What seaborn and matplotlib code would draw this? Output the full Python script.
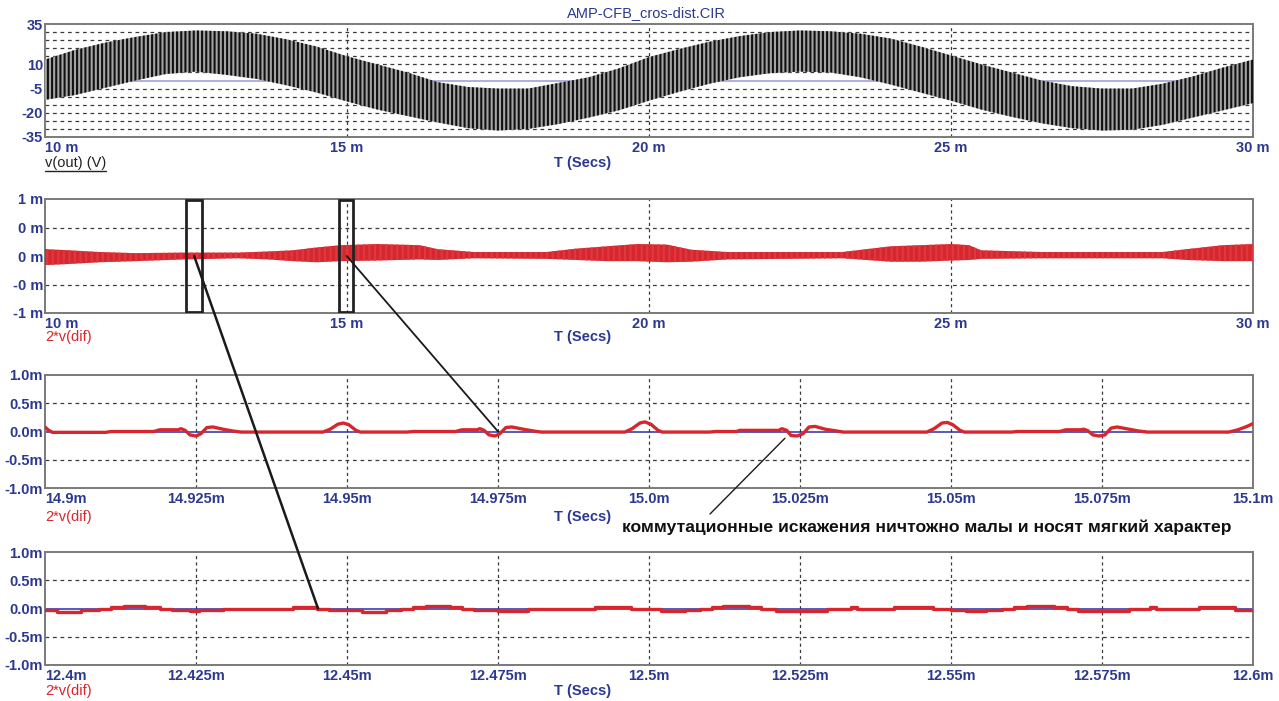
import matplotlib
matplotlib.use("Agg")
import matplotlib.pyplot as plt
import seaborn as sns
from matplotlib.patches import Rectangle, ConnectionPatch
from matplotlib.lines import Line2D

# --- values ---
# panel 1: envelope of v(out) in volts, time in ms
t_env = [10.0, 10.5, 11.0, 11.5, 12.0, 12.5, 13.0, 13.5, 14.0, 14.5,
         15.0, 15.5, 16.0, 16.5, 17.0, 17.5, 18.0, 18.5, 19.0, 19.5,
         20.0, 20.5, 21.0, 21.5, 22.0, 22.5, 23.0, 23.5, 24.0, 24.5,
         25.0, 25.5, 26.0, 26.5, 27.0, 27.5, 28.0, 28.5, 29.0, 29.5,
         30.0]
vout_upper = [13, 19, 23.5, 27, 30, 31, 30.5, 29, 25.5, 21,
              15, 10, 5, -1, -4, -5, -5, -1.5, 2, 7.5,
              14.5, 19.5, 24, 27.5, 30, 31, 30.5, 29, 26, 21,
              15.5, 10, 5, 0, -3.5, -5, -5, -2, 2.5, 8,
              13]
vout_lower = [-12, -9, -4.5, 0, 4, 5.5, 3.5, 1, -3, -7.5,
              -13, -18, -22, -26, -29.5, -31, -30, -27, -23, -18.5,
              -12.5, -7, -2, 2, 4.5, 5.5, 5, 2, -2.5, -7.5,
              -12.5, -18, -22.5, -26.5, -29.5, -31, -30.5, -27.5, -23, -18.5,
              -14]

# panel 2: envelope of 2*v(dif) in mV
t_dif = [10.0, 10.4, 10.9, 11.5, 12.3, 13.2, 13.7, 14.1, 14.5, 14.9,
         15.5, 16.2, 16.5, 17.1, 18.3, 18.8, 19.3, 19.8, 20.3, 20.7,
         21.3, 23.2, 23.6, 24.0, 24.5, 25.0, 25.3, 25.5, 26.5, 28.5,
         28.9, 29.5, 30.0]
dif_upper = [0.12, 0.10, 0.07, 0.05, 0.06, 0.06, 0.08, 0.10, 0.15, 0.19,
             0.21, 0.19, 0.12, 0.07, 0.07, 0.13, 0.17, 0.21, 0.20, 0.11,
             0.07, 0.07, 0.12, 0.17, 0.19, 0.21, 0.19, 0.10, 0.07, 0.07,
             0.12, 0.19, 0.21]
dif_lower = [-0.16, -0.14, -0.11, -0.09, -0.06, -0.04, -0.06, -0.09, -0.11, -0.09,
             -0.08, -0.06, -0.07, -0.04, -0.05, -0.07, -0.09, -0.09, -0.11, -0.10,
             -0.06, -0.04, -0.07, -0.10, -0.10, -0.08, -0.07, -0.05, -0.04, -0.04,
             -0.07, -0.09, -0.09]

# panel 3: 2*v(dif) around 15 ms (mV)
t_z15 = [14.9000, 14.9005, 14.9012, 14.9100, 14.9110, 14.9180, 14.9190, 14.9220, 14.9225, 14.9232,
         14.9240, 14.9250, 14.9258, 14.9268, 14.9278, 14.9295, 14.9310, 14.9325, 14.9460, 14.9472,
         14.9485, 14.9494, 14.9503, 14.9515, 14.9522, 14.9600, 14.9610, 14.9680, 14.9690, 14.9715,
         14.9720, 14.9727, 14.9735, 14.9745, 14.9753, 14.9763, 14.9773, 14.9792, 14.9808, 14.9822,
         14.9960, 14.9972, 14.9985, 14.9993, 15.0003, 15.0015, 15.0022, 15.0100, 15.0110, 15.0145,
         15.0150, 15.0215, 15.0220, 15.0228, 15.0235, 15.0245, 15.0255, 15.0265, 15.0275, 15.0292,
         15.0310, 15.0322, 15.0460, 15.0472, 15.0485, 15.0494, 15.0503, 15.0515, 15.0522, 15.0600,
         15.0610, 15.0680, 15.0690, 15.0715, 15.0720, 15.0727, 15.0735, 15.0745, 15.0755, 15.0765,
         15.0775, 15.0795, 15.0810, 15.0825, 15.0960, 15.0975, 15.0990, 15.1000]
dif_z15 = [0.08, 0.03, -0.015, -0.015, 0.0, 0.0, 0.03, 0.03, 0.05, 0.02,
           -0.06, -0.08, -0.04, 0.07, 0.08, 0.04, 0.01, -0.01, -0.01, 0.04,
           0.13, 0.15, 0.12, 0.02, -0.01, -0.01, 0.0, 0.0, 0.03, 0.03,
           0.05, 0.02, -0.06, -0.08, -0.04, 0.07, 0.08, 0.04, 0.01, -0.01,
           -0.01, 0.05, 0.15, 0.17, 0.13, 0.02, -0.01, -0.01, 0.0, 0.0,
           0.02, 0.02, 0.05, 0.02, -0.07, -0.08, -0.04, 0.08, 0.09, 0.04,
           0.01, -0.01, -0.01, 0.05, 0.15, 0.16, 0.12, 0.02, -0.01, -0.01,
           0.0, 0.0, 0.03, 0.03, 0.04, 0.01, -0.06, -0.08, -0.06, 0.06,
           0.08, 0.04, 0.01, -0.01, -0.01, 0.03, 0.09, 0.14]

# panel 4: 2*v(dif) around 12.5 ms (mV), stepped levels
t_z12 = [12.400, 12.402, 12.406, 12.409, 12.411, 12.413, 12.4166, 12.419, 12.421, 12.424,
         12.4255, 12.4295, 12.441, 12.445, 12.447, 12.450, 12.4525, 12.4565, 12.459, 12.461,
         12.463, 12.467, 12.469, 12.471, 12.475, 12.480, 12.491, 12.497, 12.502, 12.506,
         12.5085, 12.5105, 12.5123, 12.5166, 12.5186, 12.521, 12.5295, 12.5335, 12.5345, 12.5405,
         12.547, 12.550, 12.5525, 12.5558, 12.5585, 12.5605, 12.5625, 12.567, 12.5692, 12.571,
         12.5795, 12.583, 12.584, 12.591, 12.597, 12.600]
dif_z12 = [-0.02, -0.06, -0.02, 0.0, 0.03, 0.05, 0.03, 0.0, -0.03, -0.05,
           -0.03, -0.005, 0.03, 0.0, -0.02, -0.03, -0.06, -0.03, 0.0, 0.03,
           0.05, 0.03, -0.005, -0.03, -0.04, -0.005, 0.03, -0.015, -0.05, -0.02,
           0.0, 0.03, 0.05, 0.025, -0.01, -0.04, -0.005, 0.03, -0.005, 0.03,
           -0.015, -0.02, -0.05, -0.03, 0.0, 0.03, 0.05, 0.03, -0.01, -0.04,
           -0.01, 0.02, -0.01, 0.03, -0.02, -0.02]

# ticks and labels
wide_ticks = [10, 15, 20, 25, 30]
wide_labels = ["10 m", "15 m", "20 m", "25 m", "30 m"]
vout_ticks = [35, 10, -5, -20, -35]
vout_labels = ["35", "10", "-5", "-20", "-35"]
vout_grid = [30, 25, 20, 15, 10, 5, -5, -10, -15, -20, -25, -30]
dif_ticks = [1, 0.5, 0, -0.5, -1]
dif_labels_coarse = ["1 m", "0 m", "0 m", "-0 m", "-1 m"]
dif_labels_fine = ["1.0m", "0.5m", "0.0m", "-0.5m", "-1.0m"]
z15_ticks = [14.9, 14.925, 14.95, 14.975, 15.0, 15.025, 15.05, 15.075, 15.1]
z15_labels = ["14.9m", "14.925m", "14.95m", "14.975m", "15.0m", "15.025m", "15.05m", "15.075m", "15.1m"]
z12_ticks = [12.4, 12.425, 12.45, 12.475, 12.5, 12.525, 12.55, 12.575, 12.6]
z12_labels = ["12.4m", "12.425m", "12.45m", "12.475m", "12.5m", "12.525m", "12.55m", "12.575m", "12.6m"]

title_text = "AMP-CFB_cros-dist.CIR"
note_text = "коммутационные искажения ничтожно малы и носят мягкий характер"

NAVY = "#2b3990"
RED = "#d7262d"
BLUE = "#2a2fa6"
GRID = "#3a3a3a"

sns.set_style("white")
plt.rcParams["font.family"] = ["Liberation Sans", "DejaVu Sans"]
plt.rcParams["hatch.linewidth"] = 1.5

W, H = 1279, 701
fig = plt.figure(figsize=(W / 100, H / 100), dpi=100)


def px_axes(top, bottom, left=45, right=1253):
    return fig.add_axes([left / W, 1 - bottom / H, (right - left) / W, (bottom - top) / H])


def style_axes(ax, xlim, ylim, xticks, xlabels, yticks, ylabels, xgrid, ygrid):
    ax.set_xlim(*xlim)
    ax.set_ylim(*ylim)
    ax.set_xticks(xticks)
    ax.set_xticklabels(xlabels, fontweight="bold")
    ax.set_yticks(yticks)
    ax.set_yticklabels(ylabels, fontweight="bold")
    ax.tick_params(axis="both", length=0, labelcolor=NAVY, labelsize=10.5)
    ax.tick_params(axis="x", pad=3)
    ax.tick_params(axis="y", pad=1.5)
    ax.get_xticklabels()[0].set_horizontalalignment("left")
    for x in xgrid:
        ax.axvline(x, color=GRID, lw=0.9, ls=(0, (2.5, 2.5)), zorder=1)
    for y in ygrid:
        ax.axhline(y, color=GRID, lw=0.9, ls=(0, (3, 3)), zorder=1)
    for s in ax.spines.values():
        s.set_color("#7a7a7a")
        s.set_linewidth(1.4)
    ax.set_xlabel("")
    ax.set_ylabel("")


# --- panel 1: v(out) ---
ax1 = px_axes(24, 137)
ax1.fill_between(t_env, vout_lower, vout_upper, facecolor="#a4a4a4",
                 edgecolor="#111111", hatch="||||", linewidth=0, zorder=3)
ax1.axhline(0, color="#a9a9dd", lw=1.3, zorder=2)
style_axes(ax1, (10, 30), (-35, 35), wide_ticks, wide_labels,
           vout_ticks, vout_labels, [15, 20, 25], vout_grid)

# --- panel 2: 2*v(dif) over 10..30 ms ---
ax2 = px_axes(199, 313)
ax2.fill_between(t_dif, dif_lower, dif_upper, facecolor=RED, edgecolor="#dc3a40",
                 hatch="|||", linewidth=0, zorder=3)
style_axes(ax2, (10, 30), (-1, 1), wide_ticks, wide_labels,
           dif_ticks, dif_labels_coarse, [15, 20, 25], [0.5, -0.5])
ax2.add_patch(Rectangle((12.335, -0.975), 0.265, 1.955, fill=False,
                        ec="#222222", lw=2, zorder=5))
ax2.add_patch(Rectangle((14.87, -0.975), 0.235, 1.955, fill=False,
                        ec="#222222", lw=2, zorder=5))

# --- panel 3: zoom around 15 ms ---
ax3 = px_axes(375, 488)
ax3.axhline(0, color=BLUE, lw=1.1, zorder=2)
sns.lineplot(x=t_z15, y=dif_z15, ax=ax3, color=RED, lw=2.4, zorder=3)
style_axes(ax3, (14.9, 15.1), (-1, 1), z15_ticks, z15_labels,
           dif_ticks, dif_labels_fine, z15_ticks[1:-1], [0.5, -0.5])

# --- panel 4: zoom around 12.5 ms ---
ax4 = px_axes(552, 665)
ax4.axhline(0, color=BLUE, lw=1.1, zorder=2)
sns.lineplot(x=t_z12, y=dif_z12, ax=ax4, color=RED, lw=2.4, zorder=3,
             drawstyle="steps-post")
style_axes(ax4, (12.4, 12.6), (-1, 1), z12_ticks, z12_labels,
           dif_ticks, dif_labels_fine, z12_ticks[1:-1], [0.5, -0.5])

# --- texts ---
fig.text(646 / W, 1 - 13 / H, title_text, color=NAVY, fontsize=10.5,
         ha="center", va="center")
for yc in (163, 337, 517, 691):
    fig.text(583 / W, 1 - yc / H, "T (Secs)", color=NAVY, fontsize=10.5,
             fontweight="bold", ha="center", va="center")
vout_lbl = fig.text(45 / W, 1 - 163 / H, "v(out) (V)", color="#222222",
                    fontsize=10.5, ha="left", va="center")
for yc in (337, 517, 691):
    fig.text(45 / W, 1 - yc / H, "2*v(dif)", color=RED, fontsize=10.5,
             ha="left", va="center")
fig.text(622 / W, 1 - 527 / H, note_text, color="#111111", fontsize=12.6,
         fontweight="bold", ha="left", va="center")

# --- connector lines from the boxes to the zoomed panels ---
fig.add_artist(ConnectionPatch(xyA=(12.47, 0.0), coordsA=ax2.transData,
                               xyB=(12.4452, 0.0), coordsB=ax4.transData,
                               color="#1a1a1a", lw=1.8, zorder=10))
fig.add_artist(ConnectionPatch(xyA=(14.995, 0.0), coordsA=ax2.transData,
                               xyB=(14.975, 0.0), coordsB=ax3.transData,
                               color="#1a1a1a", lw=1.3, zorder=10))
fig.add_artist(ConnectionPatch(xyA=(710 / W, 1 - 514 / H), coordsA="figure fraction",
                               xyB=(15.0225, -0.12), coordsB=ax3.transData,
                               color="#1a1a1a", lw=1.0, zorder=10))

# underline for the v(out) label
fig.canvas.draw()
bb = vout_lbl.get_window_extent()
fig.add_artist(Line2D([bb.x0 / W, bb.x1 / W], [(bb.y0 - 1) / H, (bb.y0 - 1) / H],
                      color="#222222", lw=1.0))

fig.savefig("out.png", dpi=100)
